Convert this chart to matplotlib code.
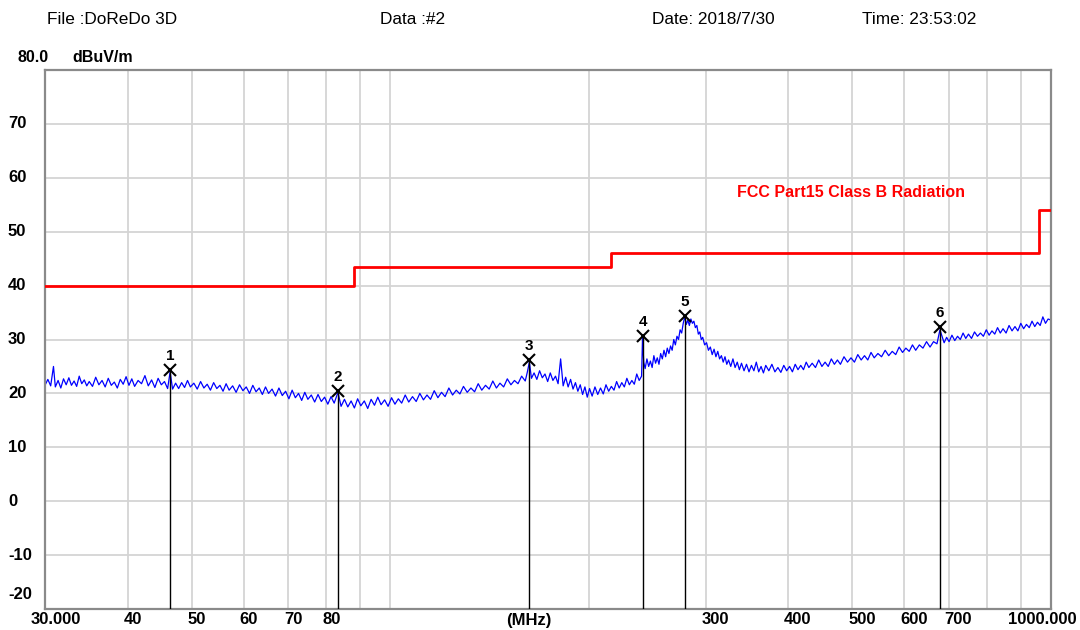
"""EMI radiated emission scan vs FCC Part 15 Class B limit (3 m)."""

import matplotlib
matplotlib.use("Agg")
import matplotlib.pyplot as plt
from matplotlib.transforms import blended_transform_factory

plt.rcParams["font.family"] = ["Liberation Sans", "DejaVu Sans"]

FREQ_MHZ = [
    30.0, 30.3, 30.6, 30.9, 31.1, 31.4, 31.7, 32.0, 32.3, 32.6,
    32.9, 33.2, 33.5, 33.8, 34.1, 34.4, 34.7, 35.0, 35.4, 35.8,
    36.2, 36.6, 37.0, 37.4, 37.8, 38.2, 38.6, 39.0, 39.4, 39.8,
    40.2, 40.6, 41.0, 41.5, 42.0, 42.5, 43.0, 43.5, 44.0, 44.5,
    45.0, 45.5, 46.0, 46.4, 46.8, 47.3, 47.8, 48.3, 48.8, 49.3,
    49.8, 50.4, 51.0, 51.6, 52.2, 52.8, 53.4, 54.0, 54.6, 55.2,
    55.8, 56.4, 57.0, 57.7, 58.4, 59.1, 59.8, 60.5, 61.2, 61.9,
    62.6, 63.3, 64.0, 64.7, 65.4, 66.2, 67.0, 67.8, 68.6, 69.4,
    70.2, 71.0, 71.8, 72.6, 73.4, 74.2, 75.0, 75.9, 76.8, 77.7,
    78.6, 79.5, 80.4, 81.3, 82.2, 83.3, 84.2, 85.2, 86.2, 87.2,
    88.2, 89.2, 90.2, 91.3, 92.4, 93.5, 94.6, 95.7, 96.8, 98.0,
    99.2, 100.4, 101.6, 102.8, 104.0, 105.3, 106.6, 108.0, 109.4, 110.8,
    112.2, 113.6, 115.0, 116.5, 118.0, 119.5, 121.0, 122.6, 124.2, 125.8,
    127.4, 129.0, 130.7, 132.4, 134.1, 135.8, 137.5, 139.3, 141.1, 142.9,
    144.7, 146.5, 148.4, 150.3, 152.2, 154.1, 156.0, 158.0, 160.0, 161.2,
    162.3, 163.5, 165.0, 166.6, 168.2, 169.8, 171.4, 173.0, 174.6, 176.2,
    177.8, 179.4, 181.0, 182.6, 184.2, 185.8, 187.4, 189.0, 190.6, 192.2,
    193.8, 195.4, 197.0, 198.6, 200.2, 202.0, 204.0, 206.0, 208.0, 210.0,
    212.0, 214.0, 216.0, 218.0, 220.0, 222.0, 224.0, 226.0, 228.0, 230.0,
    232.0, 234.0, 236.0, 238.0, 240.0, 240.8, 241.8, 243.0, 244.5, 246.0,
    247.5, 249.0, 250.5, 252.0, 253.5, 255.0, 256.5, 258.0, 259.5, 261.0,
    262.5, 264.0, 265.5, 267.0, 268.5, 270.0, 271.5, 273.0, 274.5, 276.0,
    277.5, 279.0, 280.5, 282.0, 283.5, 285.0, 286.5, 288.0, 289.5, 291.0,
    292.5, 294.0, 295.5, 297.0, 299.0, 301.0, 303.0, 305.0, 307.0, 309.0,
    311.0, 313.0, 315.0, 317.0, 319.0, 321.0, 323.0, 325.0, 327.5, 330.0,
    332.5, 335.0, 337.5, 340.0, 343.0, 346.0, 349.0, 352.0, 355.0, 358.0,
    361.0, 364.0, 367.0, 370.0, 374.0, 378.0, 382.0, 386.0, 390.0, 394.0,
    398.0, 402.0, 406.0, 410.0, 414.0, 418.0, 422.0, 426.0, 430.0, 435.0,
    440.0, 445.0, 450.0, 455.0, 460.0, 465.0, 470.0, 475.0, 480.0, 486.0,
    492.0, 498.0, 504.0, 510.0, 516.0, 522.0, 528.0, 534.0, 540.0, 547.0,
    554.0, 561.0, 568.0, 575.0, 582.0, 589.0, 596.0, 603.0, 610.0, 617.0,
    624.0, 632.0, 640.0, 648.0, 656.0, 664.0, 672.0, 679.0, 684.0, 689.0,
    695.0, 701.0, 708.0, 715.0, 722.0, 729.0, 736.0, 743.0, 750.0, 758.0,
    766.0, 774.0, 782.0, 790.0, 798.0, 806.0, 814.0, 822.0, 830.0, 838.0,
    846.0, 855.0, 864.0, 873.0, 882.0, 891.0, 900.0, 909.0, 918.0, 927.0,
    936.0, 945.0, 954.0, 963.0, 972.0, 981.0, 990.0, 1000.0,
]
LEVEL_DB = [
    21.5, 22.6, 21.4, 25.0, 21.2, 22.4, 21.0, 22.7, 21.6, 22.9,
    21.5, 22.3, 21.3, 23.2, 21.8, 22.5, 21.4, 22.2, 21.3, 23.0,
    21.6, 22.4, 21.2, 22.8, 21.5, 22.1, 21.0, 22.6, 21.7, 23.1,
    21.5, 22.7, 21.3, 22.4, 21.8, 23.3, 21.4, 22.5, 21.1, 22.8,
    21.6, 22.2, 20.9, 24.0, 20.8, 21.9, 20.9, 22.0, 21.1, 22.4,
    21.2, 21.9, 20.8, 22.2, 21.0, 21.7, 20.6, 22.0, 20.9, 21.5,
    20.4, 21.8, 20.6, 21.4, 20.2, 21.6, 20.5, 21.2, 20.0, 21.5,
    20.3, 21.0, 19.8, 21.2, 20.0, 20.8, 19.5, 21.0, 19.6, 20.4,
    19.0, 20.6, 19.2, 20.0, 18.7, 20.2, 18.9, 19.7, 18.4, 19.8,
    18.5, 19.3, 18.0, 19.4, 18.2, 20.2, 17.6, 18.9, 17.5, 18.6,
    17.3, 19.0, 17.7, 18.6, 17.2, 18.9, 17.8, 19.3, 17.9, 18.8,
    17.6, 19.2, 18.0, 19.0, 18.2, 19.7, 18.4, 19.4, 18.5, 20.0,
    18.8, 19.7, 18.9, 20.5, 19.2, 20.2, 19.4, 21.0, 19.7, 20.6,
    19.9, 21.3, 20.2, 21.0, 20.3, 21.8, 20.6, 21.5, 20.8, 22.3,
    21.0, 21.9, 21.2, 22.7, 21.6, 22.4, 21.8, 23.2, 22.3, 24.0,
    25.8, 22.8, 23.8, 22.6, 24.2, 22.9, 23.6, 22.2, 23.8, 22.4,
    23.2, 21.8, 26.4, 21.4, 23.0, 21.2, 22.6, 20.8, 22.0, 20.4,
    21.6, 19.8, 21.2, 19.3, 20.9, 19.5, 21.2, 19.8, 21.0, 19.9,
    21.6, 20.4, 21.3, 20.6, 22.2, 21.0, 22.0, 21.2, 22.8, 21.6,
    22.4, 21.7, 23.6, 22.4, 23.2, 30.4, 25.8, 24.6, 26.4, 25.0,
    26.0, 24.8, 27.0, 25.6, 26.6, 25.4, 27.4, 26.4, 28.0, 26.8,
    28.4, 27.4, 28.8, 28.0, 30.0, 29.0, 30.6, 30.0, 31.8, 31.2,
    33.0, 34.2, 32.8, 33.6, 32.6, 33.8, 33.0, 33.4, 32.2, 32.6,
    31.0, 31.4, 30.0, 30.4, 29.0, 29.4, 28.0, 28.6, 27.2, 28.2,
    26.8, 27.8, 26.4, 27.0, 25.8, 26.8, 25.4, 26.2, 25.0, 26.4,
    24.8, 25.8, 24.4, 25.6, 24.2, 25.4, 24.0, 25.2, 24.2, 25.8,
    24.0, 25.0, 23.8, 25.2, 24.2, 25.4, 24.0, 24.8, 23.9, 25.2,
    24.2, 25.0, 24.0, 25.4, 24.4, 25.2, 24.4, 25.8, 24.8, 25.6,
    24.8, 26.2, 25.0, 25.8, 25.0, 26.4, 25.4, 26.2, 25.4, 26.8,
    25.8, 26.6, 25.8, 27.2, 26.2, 27.0, 26.2, 27.6, 26.6, 27.4,
    26.8, 28.0, 27.0, 27.8, 27.2, 28.6, 27.6, 28.4, 27.8, 29.0,
    28.0, 29.0, 28.4, 29.6, 28.6, 29.6, 29.2, 31.8, 30.6, 29.4,
    30.4, 29.6, 30.8, 29.8, 30.6, 30.0, 31.2, 30.2, 31.0, 30.2,
    31.4, 30.6, 31.2, 30.6, 31.8, 30.8, 31.6, 31.0, 32.2, 31.2,
    32.0, 31.2, 32.6, 31.6, 32.4, 31.6, 33.0, 32.0, 32.8, 32.2,
    33.4, 32.4, 33.2, 32.6, 34.2, 33.0, 33.8, 33.6,
]

# FCC Part 15 Class B radiated limit (step function)
LIMIT_FREQ = [30, 88, 216, 960, 1000]
LIMIT_DB = [40, 43.5, 46, 54, 54]

# marker table
MARK_NO = ["1", "2", "3", "4", "5", "6"]
MARK_FREQ = [46.4, 83.3, 162.3, 241, 279, 679]
MARK_DB = [24.3, 20.4, 26.2, 30.6, 34.4, 32.3]

Y_TICKS = [70, 60, 50, 40, 30, 20, 10, 0, -10, -20]
X_GRID = [40, 50, 60, 70, 80, 90, 100, 200, 300, 400, 500, 600, 700, 800, 900]
X_LABELS = [(40, "40"), (50, "50"), (60, "60"), (70, "70"), (80, "80"),
            (300, "300"), (400, "400"), (500, "500"), (600, "600"), (700, "700")]

fig = plt.figure(figsize=(10.8, 6.3), dpi=100)
ax = fig.add_axes([45 / 1080, 21 / 630, 1006 / 1080, 539 / 630])
ax.set_xscale("log")
ax.set_xlim(30, 1000)
ax.set_ylim(-20, 80)
ax.set_xticks([])
ax.set_yticks([])
ax.minorticks_off()
for s in ax.spines.values():
    s.set_color("#8a8a8a")
    s.set_linewidth(1.6)

for y in Y_TICKS[:-1]:
    ax.axhline(y, color="#d4d4d4", linewidth=1.3, zorder=0)
for x in X_GRID:
    ax.axvline(x, color="#d4d4d4", linewidth=1.3, zorder=0)

# limit line + label
ax.step(LIMIT_FREQ, LIMIT_DB, where="post", color="#ff0000", linewidth=2, zorder=3)
ax.text(335, 57.3, "FCC Part15 Class B Radiation", color="#ff0000",
        fontsize=11.5, fontweight="bold", ha="left", va="center")

# spectrum
ax.plot(FREQ_MHZ, LEVEL_DB, color="#0000ff", linewidth=0.9, zorder=2)

# markers
for no, f, v in zip(MARK_NO, MARK_FREQ, MARK_DB):
    ax.plot([f, f], [-20, v], color="black", linewidth=1.0, zorder=4)
    ax.plot(f, v, marker="x", color="black", markersize=8, markeredgewidth=1.5, zorder=5)
    ax.annotate(no, (f, v), xytext=(0, 5), textcoords="offset points",
                ha="center", va="bottom", fontsize=11, fontweight="bold")

# y labels (left aligned, bold)
ytr = blended_transform_factory(fig.transFigure, ax.transData)
for y in Y_TICKS:
    ax.text(8 / 1080, y + (2.7 if y == -20 else 0), str(y), transform=ytr,
            fontsize=12, fontweight="bold", ha="left", va="center")

# x labels
xtr = blended_transform_factory(ax.transData, fig.transFigure)
ly = 1 - 620 / 630
for f, lab in X_LABELS:
    ax.annotate(lab, (f, ly), xycoords=xtr, xytext=(-4, 0), textcoords="offset pixels",
                fontsize=12, fontweight="bold", ha="left", va="center")
ax.annotate("30.000", (30, ly), xycoords=xtr, xytext=(-14, 0), textcoords="offset pixels",
            fontsize=12, fontweight="bold", ha="left", va="center")
ax.annotate("1000.000", (1000, ly), xycoords=xtr, xytext=(26, 0), textcoords="offset pixels",
            fontsize=12, fontweight="bold", ha="right", va="center")
ax.annotate("(MHz)", (162, ly), xycoords=xtr, fontsize=12, fontweight="bold",
            ha="center", va="center")

# header
hy = 1 - 20 / 630
fig.text(47 / 1080, hy, "File :DoReDo 3D", fontsize=12.4, va="center")
fig.text(380 / 1080, hy, "Data :#2", fontsize=12.4, va="center")
fig.text(652 / 1080, hy, "Date: 2018/7/30", fontsize=12.4, va="center")
fig.text(862 / 1080, hy, "Time: 23:53:02", fontsize=12.4, va="center")
fig.text(18 / 1080, 1 - 57 / 630, "80.0", fontsize=11.5, fontweight="bold", va="center")
fig.text(72 / 1080, 1 - 57 / 630, "dBuV/m", fontsize=11.5, fontweight="bold", va="center")

fig.savefig("out.png", dpi=100)
